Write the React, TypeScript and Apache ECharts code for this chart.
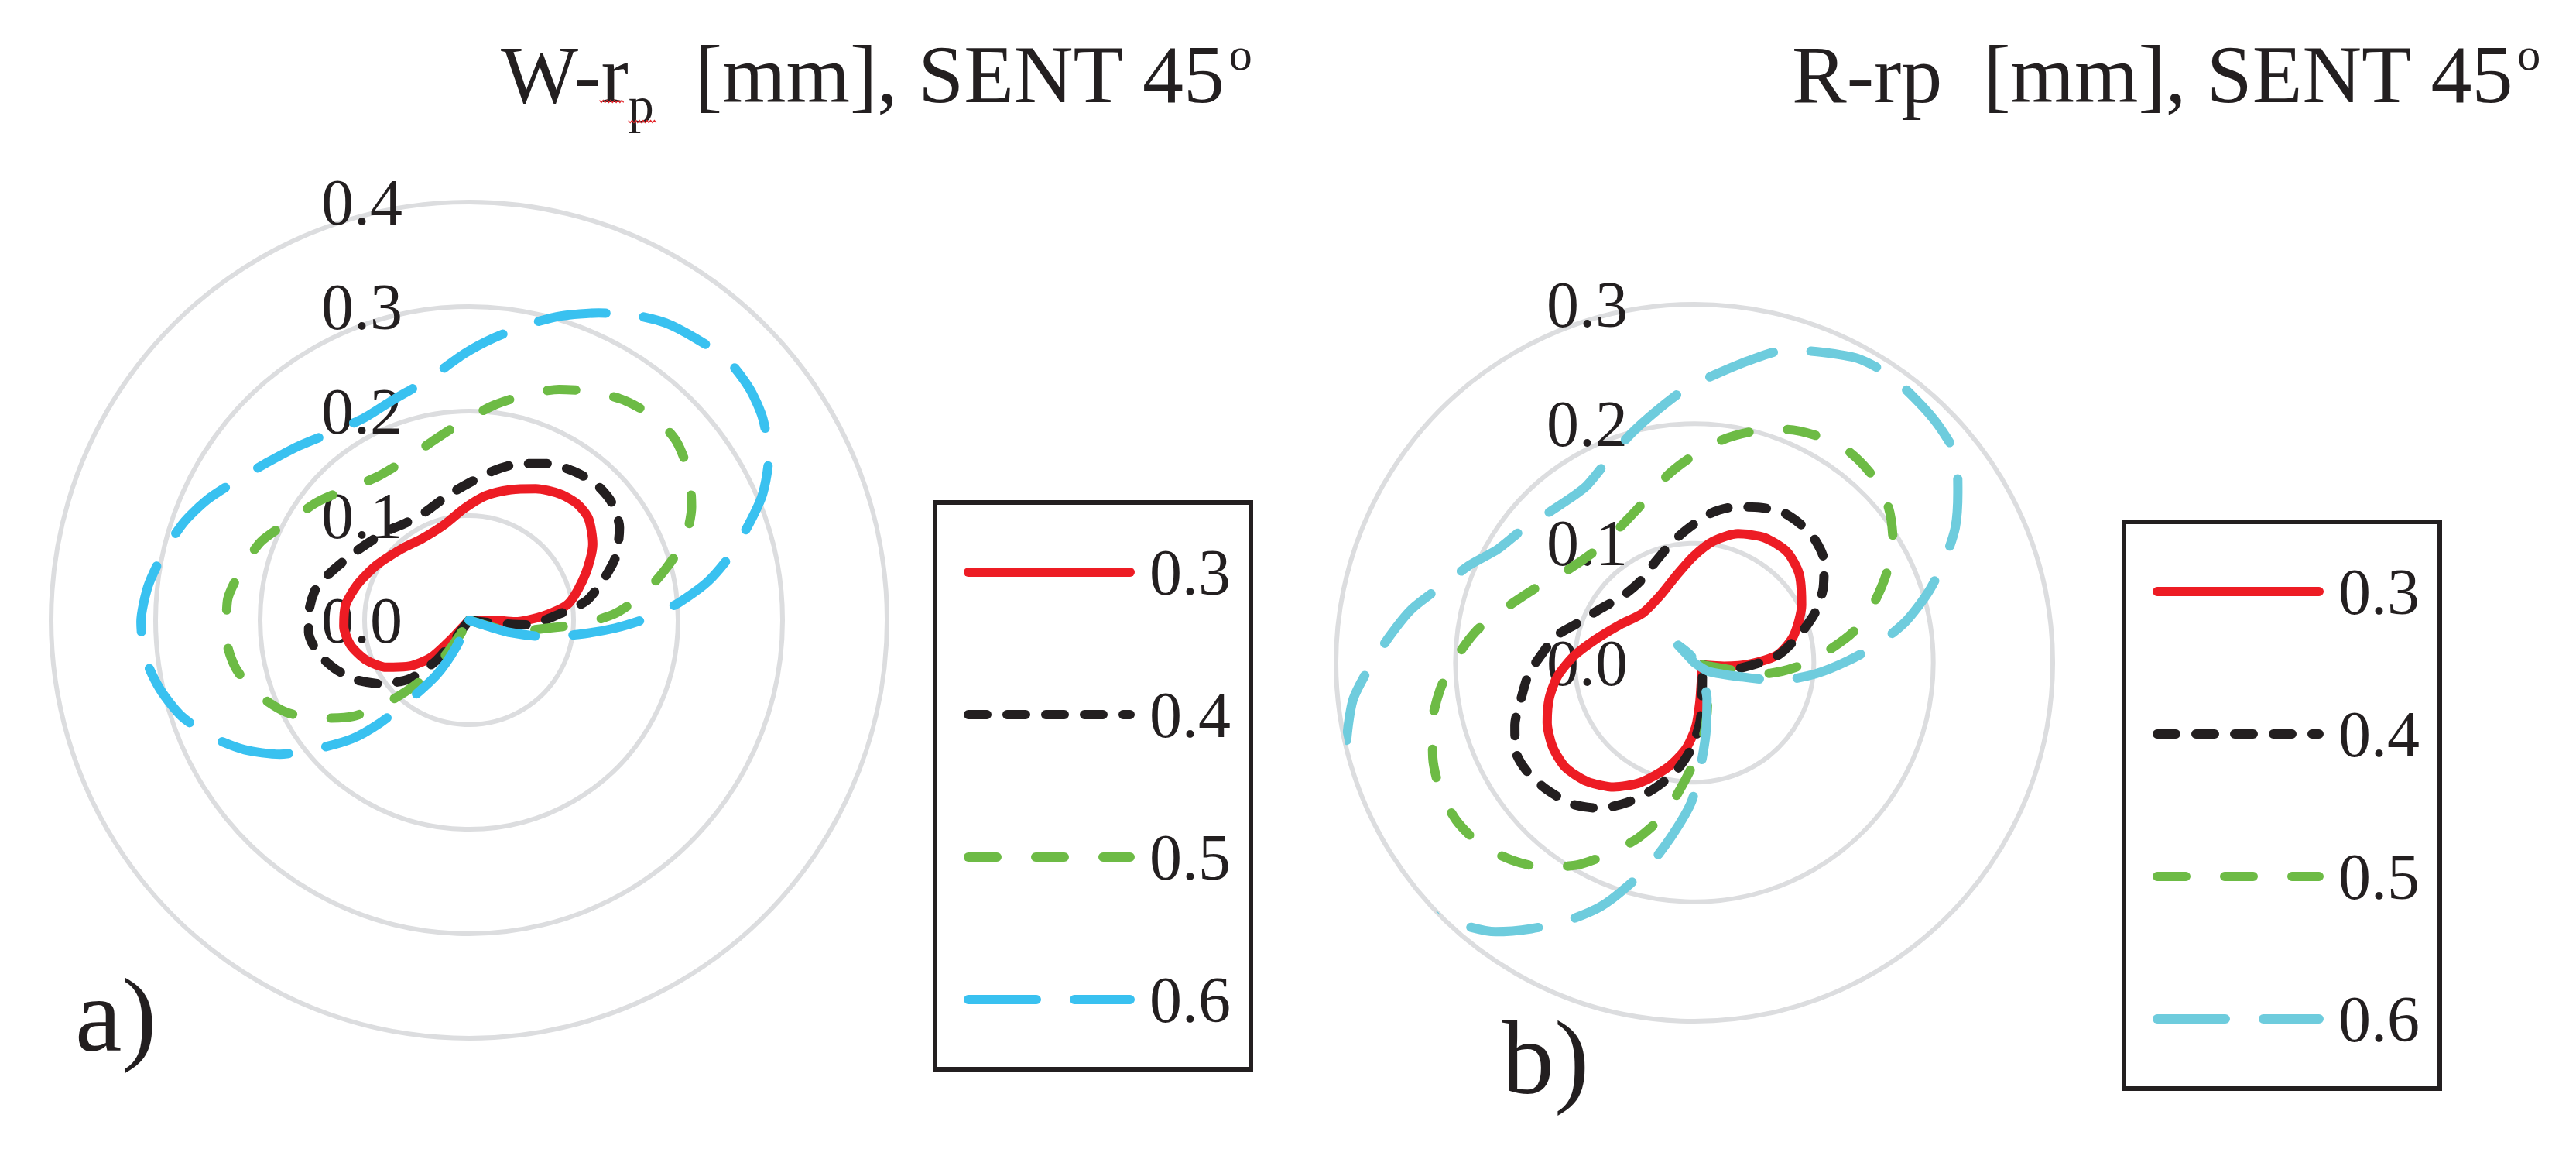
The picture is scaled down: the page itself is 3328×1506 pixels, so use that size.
import React, { useEffect, useRef } from 'react';
import * as echarts from 'echarts';

// ---------------- data ----------------
// Each point is [radius (mm), angle (deg, clockwise from the top)]
const seriesNames = ['0.3', '0.4', '0.5', '0.6'];

const wMax = 0.4;
const rMax = 0.3;
const tickStep = 0.1;

// a) W-rp
const wRed: number[][] = [
  [0, 160], [0.022, 90], [0.044, 92], [0.072, 86.5], [0.097, 80.3], [0.120, 68.3], [0.139, 58.4],
  [0.150, 49.7], [0.152, 43.2], [0.149, 36.0], [0.141, 26.9], [0.131, 17.7], [0.120, 7.5],
  [0.107, 357.6], [0.094, 344.9], [0.090, 330.5], [0.094, 316.4], [0.103, 300.7], [0.112, 287.9],
  [0.119, 277.0], [0.120, 267.3], [0.116, 258.2], [0.106, 249.1], [0.091, 240.3], [0.072, 232.3],
  [0.051, 225.6], [0.027, 223.2], [0, 160],
];
const wBlack: number[][] = [
  [0, 160], [0.024, 96.8], [0.056, 94.5], [0.088, 85.8], [0.114, 80.6], [0.134, 73.3], [0.153, 66.6],
  [0.169, 58.4], [0.177, 50.3], [0.178, 42.5], [0.174, 35.0], [0.168, 26.9], [0.157, 17.7],
  [0.145, 9.4], [0.131, 359.8], [0.121, 350.2], [0.112, 338.8], [0.111, 326.8], [0.116, 317.1],
  [0.126, 302.0], [0.138, 290.7], [0.149, 282.6], [0.153, 274.7], [0.154, 265.7], [0.148, 257.7],
  [0.137, 250.4], [0.123, 242.5], [0.104, 234.2], [0.080, 225.4], [0.051, 219.3], [0.027, 217.2],
  [0, 160],
];
const wGreen: number[][] = [
  [0, 160], [0.045, 103.9], [0.076, 95.7], [0.108, 91.9], [0.140, 87.4], [0.168, 81.6], [0.194, 75.5],
  [0.220, 69.6], [0.239, 63.0], [0.253, 56.2], [0.262, 49.2], [0.263, 42.7], [0.258, 35.7],
  [0.249, 28.8], [0.237, 21.3], [0.222, 14.0], [0.207, 6.6], [0.191, 358.7], [0.176, 349.4],
  [0.165, 338.4], [0.163, 327.1], [0.173, 315.7], [0.184, 307.9], [0.198, 297.9], [0.213, 290.6],
  [0.223, 282.6], [0.232, 274.6], [0.233, 265.9], [0.228, 258.4], [0.215, 251.0], [0.196, 243.3],
  [0.171, 236.7], [0.144, 230.3], [0.109, 224.5], [0.077, 219.1], [0.043, 214.4], [0.016, 211.7],
  [0, 160],
];
const wBlue: number[][] = [
  [0, 160], [0.025, 107.9], [0.039, 107.1], [0.074, 102.3], [0.105, 97.5], [0.140, 93.1],
  [0.172, 89.2], [0.201, 85.3], [0.231, 80.9], [0.258, 76.0], [0.284, 70.9], [0.306, 66.7],
  [0.327, 61.3], [0.341, 55.5], [0.348, 50.5], [0.351, 44.7], [0.346, 38.8], [0.341, 33.5],
  [0.332, 28.5], [0.319, 22.9], [0.304, 16.8], [0.289, 11.5], [0.271, 5.0], [0.255, 359.0],
  [0.233, 350.0], [0.223, 341.0], [0.218, 332.4], [0.223, 323.4], [0.233, 315.7], [0.245, 308.0],
  [0.260, 300.8], [0.276, 294.6], [0.289, 288.7], [0.300, 282.0], [0.309, 276.0], [0.314, 269.7],
  [0.312, 263.4], [0.303, 257.4], [0.290, 251.5], [0.270, 245.5], [0.248, 240.0], [0.222, 234.7],
  [0.192, 230.0], [0.160, 224.7], [0.130, 220.9], [0.095, 216.7], [0.060, 210.5], [0.029, 205.8],
  [0, 160],
];

// b) R-rp
const rRed: number[][] = [
  [0.007, 105], [0.025, 96.7], [0.048, 90.9], [0.070, 84.5], [0.086, 74.9], [0.102, 61.7],
  [0.115, 49.7], [0.121, 39.8], [0.120, 29.3], [0.114, 18.7], [0.103, 8.9], [0.089, 359.5],
  [0.074, 347.8], [0.063, 332.8], [0.060, 313.7], [0.070, 297.0], [0.085, 283.2], [0.101, 273.2],
  [0.115, 264.4], [0.125, 256.3], [0.133, 247.9], [0.138, 239.3], [0.139, 231.0], [0.134, 222.2],
  [0.124, 213.0], [0.110, 204.3], [0.091, 194.6], [0.073, 185.9], [0.054, 178.8], [0.034, 172.4],
  [0.013, 151.9], [0.007, 105],
];
const rBlack: number[][] = [
  [0.007, 105], [0.030, 100.9], [0.055, 90], [0.072, 84.1], [0.092, 74.7], [0.110, 67.2],
  [0.125, 59.7], [0.138, 51.9], [0.144, 44.8], [0.146, 38.1], [0.146, 30.4], [0.141, 22.9],
  [0.135, 14.9], [0.126, 6.4], [0.113, 357.7], [0.102, 349.1], [0.091, 339.3], [0.082, 326.6],
  [0.082, 312.8], [0.091, 299.5], [0.104, 288.2], [0.118, 280.9], [0.129, 272.5], [0.139, 266.2],
  [0.148, 258.4], [0.159, 250.9], [0.167, 243.5], [0.167, 237.0], [0.163, 229.4], [0.156, 220.5],
  [0.145, 212.9], [0.130, 205.8], [0.111, 197.9], [0.092, 189.7], [0.072, 182.1], [0.049, 174.3],
  [0.023, 163.3], [0.007, 105],
];
const rGreen: number[][] = [
  [0.007, 105], [0.041, 100.5], [0.059, 99.0], [0.085, 92.5], [0.111, 85.2], [0.136, 78.9],
  [0.157, 72.1], [0.177, 65.2], [0.195, 58.5], [0.208, 51.4], [0.216, 43.8], [0.219, 36.2],
  [0.216, 28.6], [0.210, 21.6], [0.199, 13.8], [0.187, 6.6], [0.171, 358.5], [0.158, 351.6],
  [0.143, 343.9], [0.132, 334.6], [0.125, 320.8], [0.131, 306.7], [0.148, 294.5], [0.168, 284.7],
  [0.185, 278.1], [0.201, 270.5], [0.214, 264.0], [0.225, 257.1], [0.233, 250.0], [0.238, 243.5],
  [0.239, 236.5], [0.235, 229.6], [0.225, 222.8], [0.213, 216.6], [0.195, 209.9], [0.175, 204.1],
  [0.154, 197.8], [0.129, 191.1], [0.103, 185.6], [0.080, 179.2], [0.058, 171.6], [0.035, 161.6],
  [0.015, 139.1], [0.007, 105],
];
const rBlue: number[][] = [
  [0, 0], [0.014, 121.2], [0.042, 106.5], [0.073, 101.7], [0.102, 95.2], [0.129, 89.2],
  [0.156, 83.9], [0.181, 78.8], [0.205, 73.1], [0.226, 67.8], [0.246, 62.6], [0.263, 57.0],
  [0.279, 51.7], [0.285, 45.7], [0.288, 40.1], [0.291, 34.0], [0.289, 28.2], [0.281, 22.4],
  [0.273, 16.4], [0.259, 11.0], [0.242, 4.2], [0.229, 358.0], [0.214, 351.8], [0.199, 344.6],
  [0.184, 336.6], [0.173, 328.0], [0.175, 316.1], [0.182, 307.8], [0.190, 300.0], [0.205, 293.5],
  [0.222, 286.6], [0.241, 280.7], [0.256, 275.0], [0.272, 269.2], [0.287, 264.0], [0.296, 258.8],
  [0.305, 253.4], [0.315, 248.2], [0.318, 242.9], [0.318, 237.5], [0.314, 232.1], [0.306, 227.1],
  [0.293, 221.5], [0.280, 216.5], [0.261, 211.5], [0.241, 206.3], [0.219, 201.1], [0.196, 196.8],
  [0.169, 191.7], [0.144, 187.0], [0.117, 181.3], [0.089, 176.9], [0.060, 170.8], [0.032, 160.7],
  [0.013, 151.9], [0.006, 335], [0.020, 317.2], [0, 0],
];

// ---------------- styles ----------------
const INK = '#231F20';
const RED = '#ED1C24';
const GREEN = '#6DBB45';
const BLUE_W = '#39C1F0';
const BLUE_R = '#6ECCDD';
const GRID = '#DCDDDF';
const FONT = 'Liberation Serif';
const DASH_BLACK = [24, 26];
const DASH_GREEN = [37, 50];
const DASH_BLUE = [88, 49];
const LINE_W = 12;

function measure(text: string, size: number): number {
  const ctx = document.createElement('canvas').getContext('2d');
  if (!ctx) return text.length * size * 0.5;
  ctx.font = `${size}px "${FONT}"`;
  return ctx.measureText(text).width;
}

function textEl(text: string, x: number, baseline: number, size: number) {
  return {
    type: 'text',
    x,
    y: baseline - 0.3375 * size,
    silent: true,
    style: { text, fontSize: size, fontFamily: FONT, fill: INK, align: 'left', verticalAlign: 'middle' },
  };
}

function squiggle(x1: number, x2: number, y: number) {
  const pts: number[][] = [];
  let i = 0;
  for (let x = x1; x <= x2; x += 2.4, i++) pts.push([x, y + (i % 2 ? 1.4 : -1.4)]);
  return { type: 'polyline', silent: true, shape: { points: pts }, style: { stroke: '#E3262B', lineWidth: 1.4, fill: null } };
}

function lineSeries(name: string, data: number[][], polarIndex: number, color: string, dash: number[] | 'solid') {
  return {
    type: 'line',
    name,
    coordinateSystem: 'polar',
    polarIndex,
    data,
    symbol: 'none',
    showSymbol: false,
    smooth: 0.25,
    clip: false,
    silent: true,
    lineStyle: { color, width: LINE_W, type: dash, cap: 'round', join: 'round' },
    itemStyle: { color },
  };
}

function radiusAxis(polarIndex: number, max: number) {
  return {
    polarIndex,
    type: 'value',
    min: 0,
    max,
    interval: tickStep,
    axisLine: { show: false },
    axisTick: { show: false },
    axisLabel: {
      show: true,
      showMinLabel: true,
      showMaxLabel: true,
      margin: 86,
      fontSize: 84,
      fontFamily: FONT,
      color: INK,
      formatter: (v: number) => v.toFixed(1),
    },
    splitLine: { show: true, lineStyle: { color: GRID, width: 6 } },
    z: 1,
  };
}

function angleAxis(polarIndex: number) {
  return {
    polarIndex,
    type: 'value',
    min: 0,
    max: 360,
    startAngle: 90,
    clockwise: true,
    axisLine: { show: false },
    axisTick: { show: false },
    axisLabel: { show: false },
    splitLine: { show: false },
  };
}

function legend(left: number, top: number, data: any[]) {
  return {
    orient: 'vertical',
    left,
    top,
    data,
    selectedMode: false,
    itemWidth: 209,
    itemHeight: LINE_W,
    itemGap: 100,
    padding: [48, 26, 48, 37],
    borderColor: INK,
    borderWidth: 6,
    borderRadius: 0,
    backgroundColor: 'transparent',
    itemStyle: { opacity: 0, borderWidth: 0 },
    lineStyle: { width: LINE_W },
    textStyle: { fontSize: 84, fontFamily: FONT, color: INK, lineHeight: 84, padding: [0, 0, 0, 20] },
  };
}

function buildGraphic() {
  const T = 106;
  const SUB = 66;
  const SUP = 60;
  const base = 132;
  const els: any[] = [];
  // left title: W-r_p  [mm], SENT 45°
  let x = 647;
  const p1 = 'W-r';
  els.push(textEl(p1, x, base, T));
  const rStart = x + measure('W-', T);
  const rEnd = x + measure(p1, T);
  x = rEnd;
  els.push(textEl('p', x, base + 26, SUB));
  const pStart = x;
  const pEnd = x + measure('p', SUB);
  x = pEnd;
  const p3 = '  [mm], SENT 45';
  els.push(textEl(p3, x, base, T));
  x += measure(p3, T) + 4;
  els.push(textEl('o', x, base - 42, SUP));
  els.push(squiggle(rStart - 2, rEnd - 4, base - 1));
  els.push(squiggle(pStart, pEnd + 4, base + 25));
  // right title
  let xr = 2315;
  const q1 = 'R-rp  [mm], SENT 45';
  els.push(textEl(q1, xr, base, T));
  xr += measure(q1, T) + 4;
  els.push(textEl('o', xr, base - 42, SUP));
  // panel labels
  els.push(textEl('a)', 97, 1357, 136));
  els.push(textEl('b)', 1940, 1412, 136));
  return els;
}

function buildOption() {
  const colorsW = [RED, INK, GREEN, BLUE_W];
  const colorsR = [RED, INK, GREEN, BLUE_R];
  const dashes: (number[] | 'solid')[] = ['solid', DASH_BLACK, DASH_GREEN, DASH_BLUE];
  const wData = [wRed, wBlack, wGreen, wBlue];
  const rData = [rRed, rBlack, rGreen, rBlue];
  const series: any[] = [];
  seriesNames.forEach((n, i) => series.push(lineSeries(n, wData[i], 0, colorsW[i], dashes[i])));
  seriesNames.forEach((n, i) => series.push(lineSeries(n, rData[i], 1, colorsR[i], dashes[i])));
  return {
    animation: false,
    backgroundColor: '#ffffff',
    textStyle: { fontFamily: FONT },
    polar: [
      { center: [606, 801], radius: 540 },
      { center: [2189, 856], radius: 463 },
    ],
    angleAxis: [angleAxis(0), angleAxis(1)],
    radiusAxis: [radiusAxis(0, wMax), radiusAxis(1, rMax)],
    legend: [
      legend(1208, 649, seriesNames.slice()),
      legend(2744, 674, seriesNames.map((n, i) => (i === 3 ? { name: n, lineStyle: { color: BLUE_R, width: LINE_W } } : n))),
    ],
    series,
    graphic: { elements: buildGraphic() },
  };
}

export default function App() {
  const ref = useRef<HTMLDivElement>(null);
  useEffect(() => {
    document.body.style.margin = '0';
    document.body.style.overflow = 'hidden';
    const chart = echarts.init(ref.current as HTMLDivElement, null, { renderer: 'svg' });
    chart.setOption(buildOption() as any);
    return () => chart.dispose();
  }, []);
  return <div ref={ref} style={{ width: 3328, height: 1506, position: 'absolute', left: 0, top: 0 }} />;
}
